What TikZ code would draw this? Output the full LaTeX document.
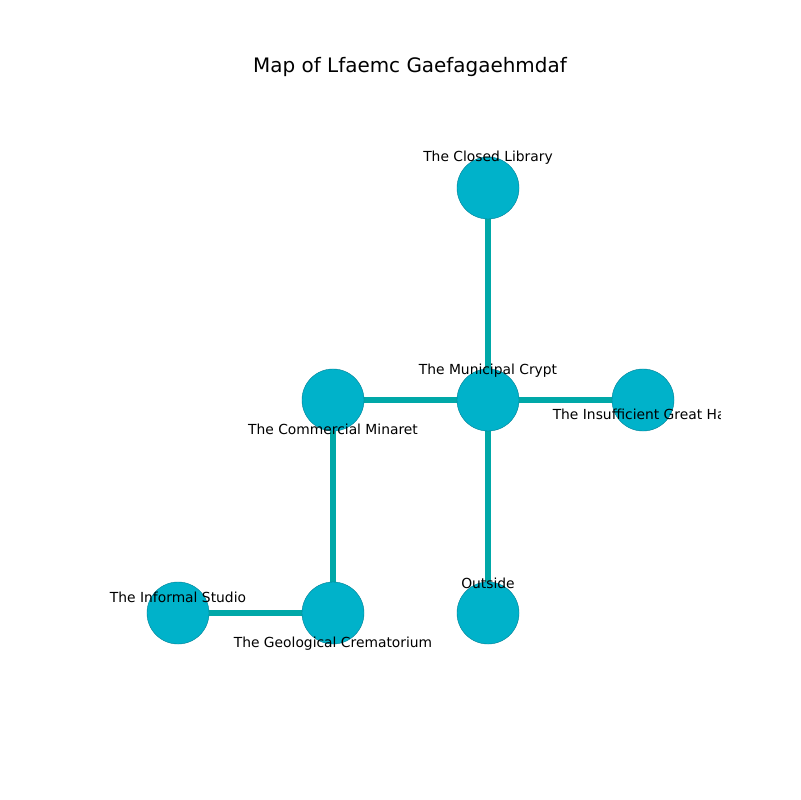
\documentclass[tikz,border=0pt]{standalone}
\usepackage{fontspec}
\setmainfont{DejaVu Sans}
\usepackage{tikz}
\usetikzlibrary{calc,backgrounds}
\definecolor{roomFill}{RGB}{0,178,202}
\definecolor{roomEdge}{RGB}{0,128,150}
\definecolor{passColor}{RGB}{0,168,168}
\newcommand{\labelFont}[0]{\fontsize{10}{12}\selectfont}

\begin{document}
\begin{tikzpicture}[x=0.01in, y=-0.01in]
  \tikzset{room/.style={circle, fill=roomFill, draw=roomEdge, line width=0.3pt,
                        minimum size=0.62in, inner sep=0pt},
           passage/.style={draw=passColor, line width=3.8pt},
           roomlabel/.style={font=\labelFont, inner sep=0pt, anchor=center}}
  \useasboundingbox (0,0) rectangle (800,800);
  \node[font=\fontsize{14.4}{17}\selectfont] (title) at (410,67) {Map of Lfaemc Gaefagaehmdaf};
  % rooms
  \node[room] (library) at (488,188) {};
  \node[room] (crypt) at (488,400) {};
  \node[room] (minaret) at (333,400) {};
  \node[room] (hall) at (643,400) {};
  \node[room] (outside) at (488,613) {};
  \node[room] (crematorium) at (333,613) {};
  \node[room] (studio) at (178,613) {};
  % passages
  \begin{scope}[on background layer]
    \draw[passage] (library.center) -- (crypt.center);
    \draw[passage] (crypt.center) -- (minaret.center);
    \draw[passage] (crypt.center) -- (hall.center);
    \draw[passage] (crypt.center) -- (outside.center);
    \draw[passage] (minaret.center) -- (crematorium.center);
    \draw[passage] (crematorium.center) -- (studio.center);
  \end{scope}
  % labels, clipped to the axes
  \begin{scope}
    \clip (100,96) rectangle (720,712);
    \node[roomlabel] (libraryLbl) at ($(library)+(0,-30)$) {The Closed Library};
    \node[roomlabel] (cryptLbl) at ($(crypt)+(0,-29)$) {The Municipal Crypt};
    \node[roomlabel] (minaretLbl) at ($(minaret)+(0,29)$) {The Commercial Minaret};
    \node[roomlabel] (hallLbl) at ($(hall)+(0,14)$) {The Insufficient Great Hall};
    \node[roomlabel] (outsideLbl) at ($(outside)+(0,-30)$) {Outside};
    \node[roomlabel] (studioLbl) at ($(studio)+(0,-16)$) {The Informal Studio};
    \node[roomlabel] (crematoriumLbl) at ($(crematorium)+(0,31)$) {The Geological Crematorium};
  \end{scope}
\end{tikzpicture}
\end{document}
